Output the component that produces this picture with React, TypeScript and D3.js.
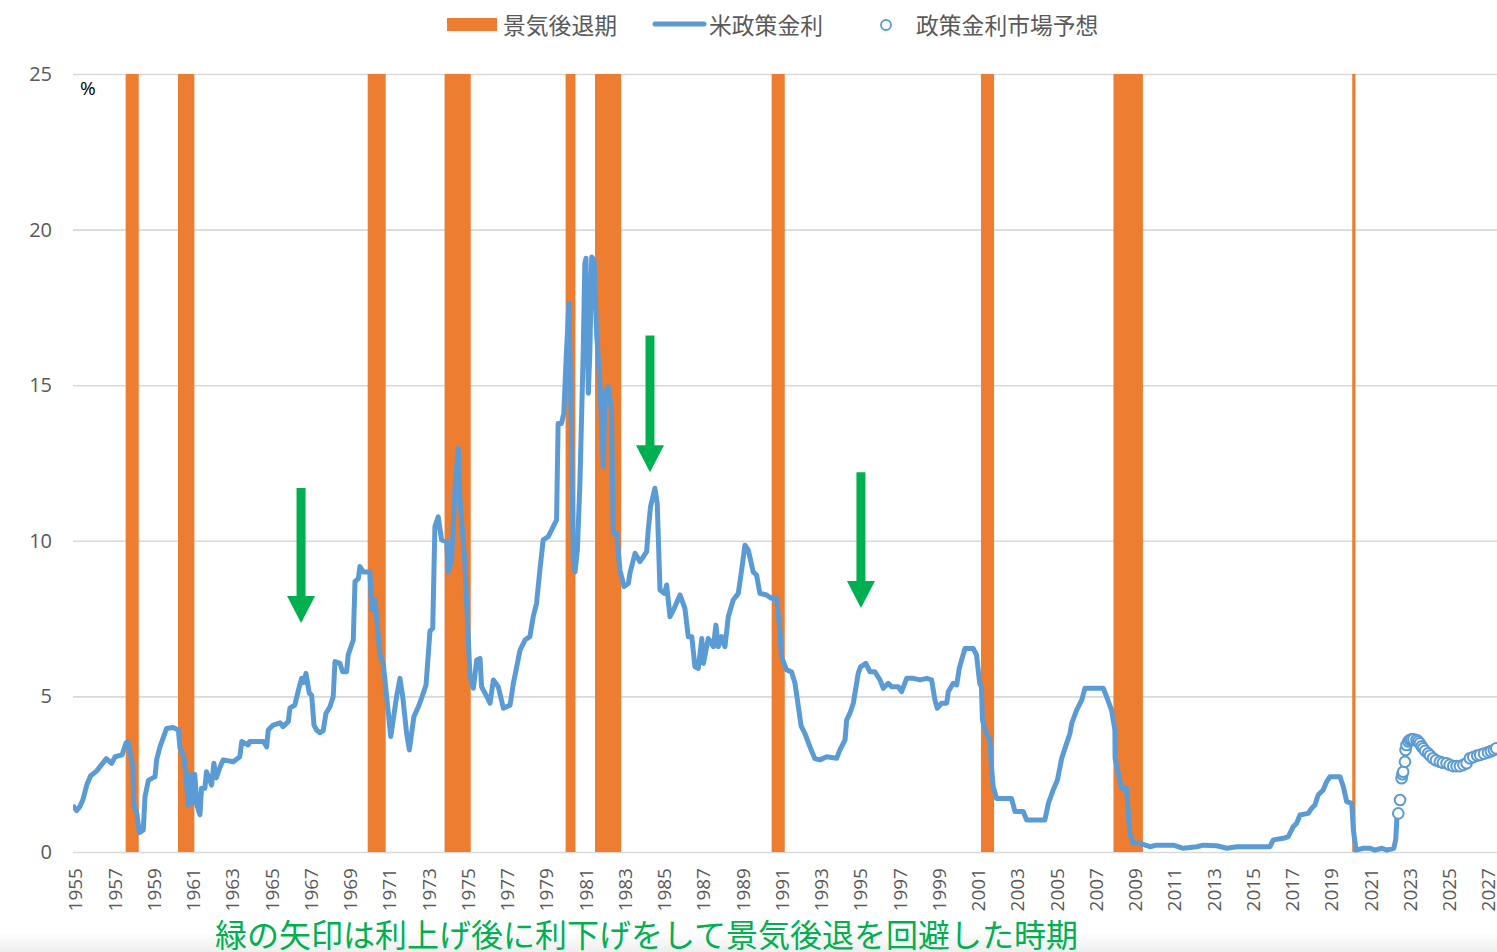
import React, { Component } from 'react'
import * as d3 from 'd3'

// recession periods: [start year, start month, end year, end month]
const recessions = [
  [1957, 8, 1958, 4],
  [1960, 4, 1961, 2],
  [1969, 12, 1970, 11],
  [1973, 11, 1975, 3],
  [1980, 1, 1980, 7],
  [1981, 7, 1982, 11],
  [1990, 7, 1991, 3],
  [2001, 3, 2001, 11],
  [2007, 12, 2009, 6],
  [2020, 2, 2020, 4],
]

// policy rate, [decimal year, %]
const fedRate = [
  [1954.95, 1.45], [1955.08, 1.33], [1955.25, 1.46], [1955.4, 1.67], [1955.6, 2.15], [1955.8, 2.45],
  [1956.1, 2.6], [1956.35, 2.8], [1956.6, 3.0], [1956.87, 2.85], [1957.04, 3.06], [1957.4, 3.12],
  [1957.6, 3.5], [1957.7, 3.55], [1957.95, 2.75], [1958.0, 1.5], [1958.14, 1.3], [1958.28, 0.62],
  [1958.48, 0.7], [1958.57, 1.78], [1958.74, 2.3], [1959.08, 2.42], [1959.16, 2.96], [1959.33, 3.38],
  [1959.67, 3.97], [1960.0, 4.0], [1960.27, 3.92], [1960.35, 3.34], [1960.55, 3.06], [1960.65, 2.5],
  [1960.77, 1.51], [1960.9, 2.5], [1961.0, 1.57], [1961.1, 2.5], [1961.23, 1.46], [1961.37, 1.2],
  [1961.45, 2.05], [1961.62, 2.05], [1961.7, 2.58], [1961.96, 2.15], [1962.08, 2.85], [1962.2, 2.38],
  [1962.4, 2.74], [1962.55, 2.96], [1963.07, 2.9], [1963.4, 3.06], [1963.5, 3.55], [1963.83, 3.44],
  [1963.9, 3.55], [1964.6, 3.55], [1964.77, 3.38], [1964.85, 3.92], [1965.1, 4.08], [1965.45, 4.15],
  [1965.6, 4.03], [1965.87, 4.19], [1965.95, 4.62], [1966.2, 4.72], [1966.43, 5.31], [1966.55, 5.58],
  [1966.65, 5.45], [1966.77, 5.74], [1966.94, 5.1], [1967.06, 5.04], [1967.18, 4.08], [1967.31, 3.92],
  [1967.48, 3.83], [1967.65, 3.9], [1967.79, 4.46], [1967.99, 4.67], [1968.16, 5.0], [1968.25, 6.12],
  [1968.5, 6.06], [1968.64, 5.79], [1968.84, 5.79], [1968.92, 6.33], [1969.18, 6.81], [1969.27, 8.69],
  [1969.44, 8.79], [1969.52, 9.17], [1969.69, 9.0], [1970.03, 9.0], [1970.12, 7.78], [1970.29, 8.1],
  [1970.54, 6.33], [1970.71, 6.06], [1971.09, 3.71], [1971.39, 5.0], [1971.56, 5.58], [1971.7, 5.0],
  [1971.9, 3.81], [1972.04, 3.28], [1972.27, 4.35], [1972.5, 4.67], [1972.66, 4.94], [1972.89, 5.37],
  [1973.09, 7.1], [1973.23, 7.19], [1973.34, 10.45], [1973.51, 10.77], [1973.68, 10.03], [1973.94, 9.97],
  [1974.02, 9.0], [1974.19, 9.38], [1974.36, 11.63], [1974.53, 12.97], [1974.62, 11.31], [1974.87, 9.28],
  [1975.13, 5.63], [1975.3, 5.26], [1975.47, 6.17], [1975.64, 6.22], [1975.72, 5.31], [1975.98, 5.0],
  [1976.15, 4.78], [1976.32, 5.53], [1976.57, 5.31], [1976.83, 4.62], [1977.17, 4.72], [1977.34, 5.42],
  [1977.51, 5.95], [1977.68, 6.49], [1977.93, 6.81], [1978.18, 6.92], [1978.35, 7.56], [1978.52, 7.99],
  [1978.69, 9.06], [1978.86, 10.03], [1979.11, 10.13], [1979.29, 10.35], [1979.54, 10.67], [1979.62, 13.77],
  [1979.79, 13.77], [1979.91, 14.1], [1980.04, 16.02], [1980.17, 17.63], [1980.31, 13.13], [1980.39, 9.38],
  [1980.48, 9.0], [1980.6, 9.7], [1980.73, 11.85], [1980.9, 16.13], [1980.98, 18.92], [1981.04, 19.08],
  [1981.16, 14.74], [1981.24, 16.13], [1981.33, 19.12], [1981.45, 19.02], [1981.58, 16.67], [1981.75, 15.06],
  [1981.92, 12.38], [1982.01, 14.74], [1982.17, 14.95], [1982.34, 14.2], [1982.43, 10.24], [1982.6, 10.24],
  [1982.77, 9.06], [1982.98, 8.53], [1983.2, 8.63], [1983.28, 8.96], [1983.54, 9.6], [1983.79, 9.33],
  [1984.13, 9.65], [1984.21, 10.35], [1984.33, 11.1], [1984.55, 11.69], [1984.67, 11.2], [1984.81, 8.42],
  [1985.04, 8.31], [1985.15, 8.58], [1985.32, 7.56], [1985.57, 7.88], [1985.83, 8.26], [1986.08, 7.83],
  [1986.25, 6.92], [1986.43, 6.92], [1986.59, 5.95], [1986.76, 5.9], [1986.94, 6.86], [1987.02, 6.06],
  [1987.27, 6.86], [1987.53, 6.6], [1987.66, 7.29], [1987.78, 6.6], [1987.95, 6.92], [1988.12, 6.6],
  [1988.29, 7.56], [1988.54, 8.1], [1988.8, 8.31], [1988.97, 9.06], [1989.14, 9.86], [1989.31, 9.7],
  [1989.56, 9.0], [1989.73, 8.9], [1989.9, 8.31], [1990.24, 8.26], [1990.49, 8.15], [1990.75, 8.15],
  [1990.92, 7.13], [1991.0, 6.28], [1991.26, 5.85], [1991.51, 5.79], [1991.69, 5.42], [1991.86, 4.67],
  [1992.0, 4.05], [1992.2, 3.8], [1992.5, 3.3], [1992.7, 3.0], [1992.96, 2.96], [1993.3, 3.06],
  [1993.81, 3.01], [1993.98, 3.28], [1994.24, 3.6], [1994.32, 4.24], [1994.49, 4.46], [1994.66, 4.78],
  [1994.8, 5.31], [1994.91, 5.74], [1995.03, 5.95], [1995.3, 6.06], [1995.51, 5.79], [1995.76, 5.79],
  [1996.02, 5.53], [1996.19, 5.26], [1996.44, 5.42], [1996.61, 5.31], [1996.95, 5.31], [1997.12, 5.15],
  [1997.38, 5.58], [1997.72, 5.58], [1998.06, 5.53], [1998.4, 5.58], [1998.65, 5.53], [1998.82, 4.88],
  [1998.94, 4.62], [1999.16, 4.78], [1999.42, 4.78], [1999.5, 5.15], [1999.75, 5.42], [1999.93, 5.37],
  [2000.06, 5.9], [2000.18, 6.17], [2000.35, 6.54], [2000.77, 6.54], [2000.94, 6.33], [2001.1, 5.42],
  [2001.19, 5.31], [2001.24, 4.24], [2001.44, 3.81], [2001.62, 3.6], [2001.7, 2.74], [2001.79, 2.1],
  [2001.96, 1.72], [2002.72, 1.72], [2002.9, 1.3], [2003.32, 1.3], [2003.49, 1.03], [2004.42, 1.03],
  [2004.6, 1.56], [2004.85, 2.0], [2005.06, 2.31], [2005.28, 3.01], [2005.53, 3.49], [2005.7, 3.81],
  [2005.79, 4.13], [2006.04, 4.56], [2006.3, 4.88], [2006.46, 5.26], [2007.4, 5.26], [2007.56, 5.0],
  [2007.82, 4.56], [2007.99, 3.92], [2008.0, 3.01], [2008.16, 2.53], [2008.33, 2.05], [2008.58, 2.05],
  [2008.75, 0.6], [2008.92, 0.28], [2009.27, 0.28], [2009.78, 0.17], [2010.12, 0.22], [2010.97, 0.22],
  [2011.48, 0.12], [2012.16, 0.17], [2012.5, 0.22], [2013.18, 0.2], [2013.7, 0.12], [2014.2, 0.17],
  [2015.89, 0.17], [2016.06, 0.39], [2016.57, 0.44], [2016.82, 0.49], [2017.07, 0.81], [2017.25, 0.92],
  [2017.42, 1.19], [2017.84, 1.24], [2018.01, 1.4], [2018.18, 1.51], [2018.35, 1.83], [2018.6, 1.99],
  [2018.78, 2.26], [2018.95, 2.42], [2019.46, 2.42], [2019.63, 2.1], [2019.8, 1.62], [2020.06, 1.56],
  [2020.14, 0.71], [2020.28, 0.06], [2020.65, 0.12], [2021.0, 0.12], [2021.23, 0.06], [2021.6, 0.12],
  [2021.85, 0.06], [2022.2, 0.12], [2022.3, 0.4], [2022.36, 1.1],
]

// market expectations for the policy rate
const forecast = [
  [2022.43, 1.24], [2022.52, 1.67], [2022.6, 2.37], [2022.64, 2.5], [2022.68, 2.58], [2022.77, 2.9],
  [2022.8, 3.28], [2022.85, 3.44], [2022.94, 3.55], [2023.02, 3.6], [2023.1, 3.62], [2023.2, 3.62],
  [2023.36, 3.6], [2023.45, 3.55], [2023.53, 3.49], [2023.62, 3.4], [2023.7, 3.33], [2023.8, 3.25],
  [2023.95, 3.17], [2024.05, 3.1], [2024.2, 3.01], [2024.35, 2.95], [2024.55, 2.9], [2024.7, 2.87],
  [2024.89, 2.85], [2025.05, 2.8], [2025.23, 2.76], [2025.4, 2.76], [2025.57, 2.76], [2025.75, 2.8],
  [2025.91, 2.85], [2026.08, 3.01], [2026.25, 3.05], [2026.45, 3.1], [2026.6, 3.12], [2026.8, 3.16],
  [2027.0, 3.2], [2027.15, 3.24], [2027.3, 3.28], [2027.42, 3.33],
]

// green arrows: [year, from value, to value]
const arrows = [
  [1966.52, 11.7, 7.36],
  [1984.3, 16.6, 12.2],
  [1995.05, 12.2, 7.84],
]

const yTicks = [0, 5, 10, 15, 20, 25]
const xTicks = d3.range(1955, 2028, 2)
const legendLabels = ['景気後退期', '米政策金利', '政策金利市場予想']
const note = '緑の矢印は利上げ後に利下げをして景気後退を回避した時期'

const ORANGE = '#ED7D31'
const BLUE = '#5B9BD5'
const GREEN = '#00B050'
const JP = "'Noto Sans CJK JP', 'Noto Sans', sans-serif"
const NUM = "'Open Sans', 'Noto Sans', sans-serif"

class App extends Component {
  svgRef = React.createRef<SVGSVGElement>()

  componentDidMount() {
    this.renderChart()
  }

  componentDidUpdate() {
    this.renderChart()
  }

  renderChart() {
    const W = 1497, H = 952
    const margin = { top: 74, left: 73, right: 0, bottom: 100 }
    const w = W - margin.left - margin.right
    const h = 852 - margin.top

    const svg = d3.select(this.svgRef.current).attr('width', W).attr('height', H)
    svg.selectAll('*').remove()

    // faint grey strip at the bottom
    const defs = svg.append('defs')
    const grad = defs.append('linearGradient').attr('id', 'bottomFade').attr('x1', 0).attr('y1', 0).attr('x2', 0).attr('y2', 1)
    grad.append('stop').attr('offset', '0%').attr('stop-color', '#ffffff')
    grad.append('stop').attr('offset', '100%').attr('stop-color', '#eeeeee')
    svg.append('rect').attr('x', 0).attr('y', 932).attr('width', W).attr('height', 20).attr('fill', 'url(#bottomFade)')

    defs.append('clipPath').attr('id', 'plotClip')
      .append('rect').attr('x', 0).attr('y', -10).attr('width', w).attr('height', h + 20)

    const x = d3.scaleLinear().domain([1954.9, 2027.46]).range([0, w])
    const y = d3.scaleLinear().domain([0, 25]).range([h, 0])

    const g = svg.append('g').attr('transform', `translate(${margin.left}, ${margin.top})`)

    // Y axis + gridlines
    const yAxis = g.append('g').call(d3.axisLeft(y).tickValues(yTicks).tickSize(-w).tickPadding(21))
    yAxis.select('.domain').remove()
    yAxis.selectAll('line').attr('stroke', '#d9d9d9').attr('stroke-width', 1.6)
    yAxis.selectAll('text').attr('fill', '#595959').style('font-size', '20px').style('font-family', NUM)

    // X axis labels, rotated
    const xAxis = g.append('g').attr('transform', `translate(0, ${h})`)
      .call(d3.axisBottom(x).tickValues(xTicks).tickSize(0).tickFormat(d3.format('d')))
    xAxis.select('.domain').remove()
    xAxis.selectAll('text')
      .attr('transform', 'rotate(-90)')
      .attr('x', -16).attr('y', 0).attr('dy', '0.36em')
      .attr('text-anchor', 'end')
      .attr('fill', '#595959').style('font-size', '19px').style('font-family', NUM)

    const plot = g.append('g').attr('clip-path', 'url(#plotClip)')

    // recession bands
    const ym = (yr, m) => yr + (m - 1) / 12
    plot.selectAll('.rec').data(recessions).join('rect')
      .attr('class', 'rec')
      .attr('x', d => x(ym(d[0], d[1])))
      .attr('width', d => x(ym(d[2], d[3])) - x(ym(d[0], d[1])))
      .attr('y', y(25))
      .attr('height', y(0) - y(25))
      .attr('fill', ORANGE)

    // policy rate line
    const line = d3.line().x(d => x(d[0])).y(d => y(d[1]))
    plot.append('path').datum(fedRate)
      .attr('d', line)
      .attr('fill', 'none')
      .attr('stroke', BLUE)
      .attr('stroke-width', 5)
      .attr('stroke-linejoin', 'round')
      .attr('stroke-linecap', 'round')

    // market expectation markers
    plot.selectAll('.fc').data(forecast).join('circle')
      .attr('class', 'fc')
      .attr('cx', d => x(d[0]))
      .attr('cy', d => y(d[1]))
      .attr('r', 5.3)
      .attr('fill', '#fff')
      .attr('stroke', BLUE)
      .attr('stroke-width', 2)

    // green arrows
    const shaft = 4.5, head = 14, headLen = 27
    g.selectAll('.arrow').data(arrows).join('path')
      .attr('class', 'arrow')
      .attr('d', d => {
        const cx = x(d[0]), top = y(d[1]), tip = y(d[2]), hb = tip - headLen
        return `M${cx - shaft},${top}L${cx + shaft},${top}L${cx + shaft},${hb}L${cx + head},${hb}L${cx},${tip}L${cx - head},${hb}L${cx - shaft},${hb}Z`
      })
      .attr('fill', GREEN)

    // % unit
    g.append('text').attr('x', 7).attr('y', 14).attr('dominant-baseline', 'central')
      .style('font-size', '19px').style('font-family', NUM).attr('fill', '#000').text('%')

    // legend
    const lg = svg.append('g')
    lg.append('rect').attr('x', 447).attr('y', 18).attr('width', 50).attr('height', 13).attr('fill', ORANGE)
    lg.append('line').attr('x1', 655).attr('x2', 704).attr('y1', 24).attr('y2', 24)
      .attr('stroke', BLUE).attr('stroke-width', 5).attr('stroke-linecap', 'round')
    lg.append('circle').attr('cx', 886).attr('cy', 25).attr('r', 5).attr('fill', '#fff')
      .attr('stroke', BLUE).attr('stroke-width', 1.8)
    const lx = [503, 709, 916]
    lg.selectAll('.lt').data(legendLabels).join('text')
      .attr('class', 'lt')
      .attr('x', (d, i) => lx[i]).attr('y', 24)
      .attr('dominant-baseline', 'central')
      .attr('fill', '#595959')
      .style('font-size', '22.8px').style('font-family', JP)
      .text(d => d)

    // note at the bottom
    svg.append('text').attr('x', 215).attr('y', 947)
      .attr('fill', GREEN).style('font-size', '32px').style('font-family', JP)
      .text(note)
  }

  render() {
    return (
      <svg ref={this.svgRef} style={{ position: 'absolute', left: 0, top: 0, display: 'block', background: '#fff' }}></svg>
    )
  }
}

export default App
